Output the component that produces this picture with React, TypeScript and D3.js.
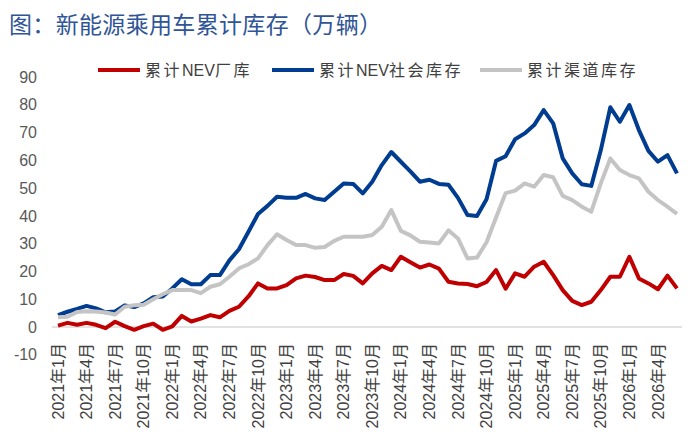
import React, { useEffect } from 'react';
import * as d3 from 'd3';

// 2021年1月 .. 2026年6月, monthly
const years = [2021, 2022, 2023, 2024, 2025, 2026];
const months: string[] = [];
years.forEach(y => {
  for (let m = 1; m <= 12; m++) {
    if (y === 2026 && m > 6) break;
    months.push(`${y}年${m}月`);
  }
});

// 累计NEV厂库
const factoryStock = [
  0.5, 1.5, 0.8, 1.5, 0.8, -0.4, 1.9, 0.3, -1, 0.3, 1.2, -1,
  0.2, 4, 2, 3, 4.3, 3.5, 5.8, 7.3, 11, 15.7, 13.9, 13.9,
  15.1, 17.5, 18.5, 18, 16.9, 16.9, 19.1, 18.4, 15.7, 19.3, 22, 20.5,
  25.3, 23.3, 21.4, 22.5, 21, 16.3, 15.7, 15.5, 14.7, 16.2, 20.5, 13.8,
  19.3, 18.1, 21.7, 23.5, 18.7, 13.3, 9.4, 7.9, 9.1, 13.3, 18.1, 18.1,
  25.3, 17.5, 15.7, 13.6, 18.5, 13.9,
];

// 累计NEV社会库存
const socialStock = [
  4.3, 5.5, 6.5, 7.6, 6.7, 5.3, 5.6, 7.8, 7.2, 8.5, 10.7, 11,
  13.9, 17.2, 15.4, 15.4, 18.7, 18.7, 24, 28, 34.3, 40.7, 43.6, 46.9,
  46.5, 46.5, 47.9, 46.3, 45.7, 48.7, 51.7, 51.5, 48.1, 52.3, 58.3, 63,
  59.5, 56, 52.3, 53, 51.5, 51.2, 46.5, 40.3, 40, 46, 59.8, 61.5,
  67.6, 69.7, 72.7, 78.1, 73.3, 60.7, 55.3, 51.4, 50.8, 63.7, 79.1, 73.9,
  79.9, 70.9, 63.4, 59.5, 61.9, 55.3,
];

// 累计渠道库存
const channelStock = [
  3.5, 3.7, 5.4, 5.7, 5.6, 5.2, 4.5, 7.3, 7.8, 8, 10, 11.8,
  13.3, 13.3, 13.3, 12.2, 14.5, 15.4, 18.1, 21.1, 22.6, 24.7, 29.5, 33.4,
  31.3, 29.5, 29.5, 28.5, 28.8, 31, 32.5, 32.5, 32.5, 33.1, 36.1, 42.1,
  34.6, 33, 30.7, 30.4, 30.1, 34.8, 31.9, 24.7, 25, 30.5, 39.4, 48.2,
  49.1, 51.7, 50.5, 54.7, 53.9, 47.2, 45.7, 43.3, 41.5, 51.7, 60.7, 56.5,
  54.7, 53.5, 48.7, 45.7, 43.3, 40.7,
];

const yTicks = [-10, 0, 10, 20, 30, 40, 50, 60, 70, 80, 90];

const series = [
  { name: '累计NEV厂库', values: factoryStock, color: '#C00000', legendX: 98 },
  { name: '累计NEV社会库存', values: socialStock, color: '#003C8F', legendX: 272 },
  { name: '累计渠道库存', values: channelStock, color: '#C4C4C4', legendX: 480 },
];

const width = 700;
const height = 437;
const latin = '"Liberation Sans", Arial, "Noto Sans CJK SC", sans-serif';

const App: React.FC = () => {
  useEffect(() => {
    document.body.style.margin = '0';
  }, []);

  const x = d3.scalePoint<string>().domain(months).range([58, 677]);
  const y = d3.scaleLinear().domain([-10, 90]).range([354.8, 77]);

  const line = d3.line<number>()
    .x((_, i) => x(months[i]) as number)
    .y(d => y(d));

  // labels every 3 months
  const xLabels = months.filter((_, i) => i % 3 === 0);

  return (
    <svg width={width} height={height} viewBox={`0 0 ${width} ${height}`}
      style={{ display: 'block', background: '#fff' }}>
      {/* title */}
      <text x={9} y={33} fontSize={23} fill="#2F5597"
        fontFamily='"Noto Sans CJK SC", sans-serif'
        textLength={373} lengthAdjust="spacing">
        图：新能源乘用车累计库存（万辆）
      </text>

      {/* legend */}
      {series.map(s => (
        <g key={s.name}>
          <line x1={s.legendX} x2={s.legendX + 42} y1={70} y2={70}
            stroke={s.color} strokeWidth={4} />
          <text x={s.legendX + 47} y={70} dy="0.35em" fontSize={16} fill="#404040"
            fontFamily={latin}>
            {s.name.split(/([A-Z]+)/).filter(p => p).map((p, k) => (
              <tspan key={k} letterSpacing={/[A-Z]/.test(p) ? 0 : 2.5}>{p}</tspan>
            ))}
          </text>
        </g>
      ))}

      {/* y ticks */}
      {yTicks.map(t => (
        <text key={t} x={37} y={y(t)} dy="0.35em" textAnchor="end"
          fontSize={16} fill="#595959" fontFamily={latin}>
          {t}
        </text>
      ))}

      {/* zero line */}
      <line x1={52} x2={682} y1={y(0)} y2={y(0)} stroke="#D9D9D9" strokeWidth={1.5} />

      {/* x labels */}
      {xLabels.map(m => (
        <text key={m} transform={`translate(${x(m)},343) rotate(-90)`}
          textAnchor="end" dy="0.35em" fontSize={16} fill="#404040" fontFamily={latin}>
          {m}
        </text>
      ))}

      {/* lines */}
      {series.map(s => (
        <path key={s.name} d={line(s.values) || ''} fill="none" stroke={s.color}
          strokeWidth={4} strokeLinejoin="round" />
      ))}
    </svg>
  );
};

export default App;
